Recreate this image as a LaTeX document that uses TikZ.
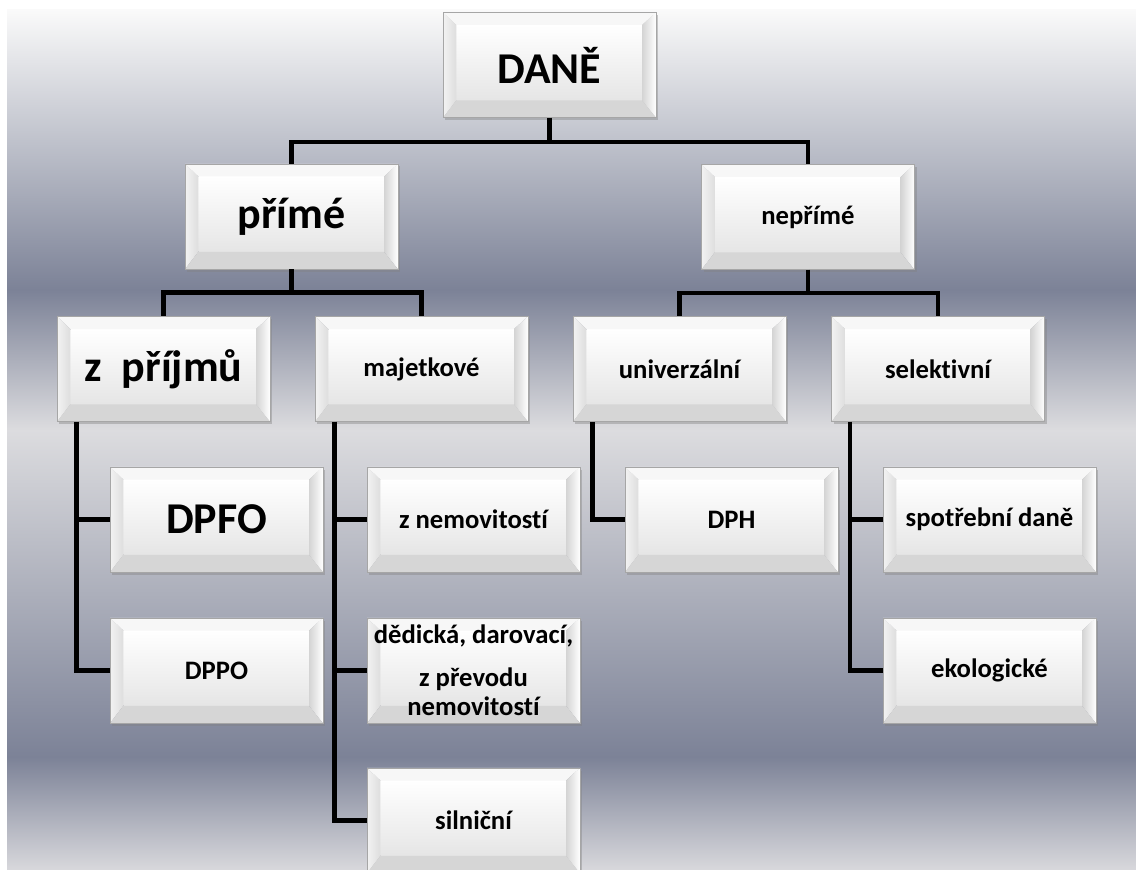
\documentclass[tikz,border=0pt]{standalone}
\usepackage{fontspec}
\setmainfont{Carlito}[Ligatures=NoCommon]
\usetikzlibrary{shadows,calc}
\tikzset{
  tbox/.style={rectangle,draw=black!35,line width=0.4pt,
    minimum width=159.75pt,minimum height=79pt,inner sep=1pt,align=center,
    font=\fontsize{20}{22}\selectfont\bfseries,
    drop shadow={shadow xshift=1.5pt,shadow yshift=-2pt,opacity=0.4},
    path picture={
      \path (path picture bounding box.north west) coordinate (nw)
            (path picture bounding box.north east) coordinate (ne)
            (path picture bounding box.south east) coordinate (se)
            (path picture bounding box.south west) coordinate (sw);
      \path ([shift={(10pt,-9.5pt)}]nw) coordinate (inw)
            ([shift={(-10.5pt,-9.5pt)}]ne) coordinate (ine)
            ([shift={(-10.5pt,13pt)}]se) coordinate (ise)
            ([shift={(10pt,13pt)}]sw) coordinate (isw);
      \shade[top color=white,bottom color=black!10] (inw) rectangle (ise);
      \fill[black!3] (nw)--(ne)--(ine)--(inw)--cycle;
      \shade[left color=black!5,right color=black!13] (nw)--(inw)--(isw)--(sw)--cycle;
      \shade[left color=black!17,right color=white] (ne)--(se)--(ise)--(ine)--cycle;
      \fill[black!16] (sw)--(se)--(ise)--(isw)--cycle;
    }},
  big/.style={font=\fontsize{33}{38}\selectfont\bfseries},
  conn/.style={line width=3.5pt,line join=miter}
}
\begin{document}
\begin{tikzpicture}[x=0.75pt,y=-0.75pt]
\useasboundingbox (0,0) rectangle (1136,870);
% pozadi
\shade[top color=black!2,bottom color={rgb,255:red,124;green,130;blue,151}] (7,10) rectangle (1136,290);
\shade[top color={rgb,255:red,124;green,130;blue,151},bottom color={rgb,255:red,220;green,220;blue,223}] (7,290) rectangle (1136,430);
\shade[top color={rgb,255:red,220;green,220;blue,223},bottom color={rgb,255:red,124;green,130;blue,151}] (7,430) rectangle (1136,757);
\shade[top color={rgb,255:red,124;green,130;blue,151},bottom color={rgb,255:red,216;green,216;blue,220}] (7,757) rectangle (1136,870);
%
\node[tbox,big] (dane) at (549.5,65) {DANĚ};
\node[tbox,big] (prime) at (291.5,216.5) {přímé};
\node[tbox] (neprime) at (808,217) {nepřímé};
%
\node[tbox,big] (prijmy) at (163.5,369) {z~~příjmů};
\node[tbox] (majetek) at (421.5,369) {majetkové};
\node[tbox] (univ) at (679.5,369) {univerzální};
\node[tbox] (selekt) at (938,369) {selektivní};
%
\node[tbox,big] (dpfo) at (216.5,519.5) {DPFO};
\node[tbox] (dppo) at (216.5,670.5) {DPPO};
\node[tbox] (nemov) at (473.5,519.5) {z nemovitostí};
\node[tbox] (dedic) at (473.5,670.5) {dědická, darovací,\\[10pt]z převodu\\nemovitostí};
\node[tbox] (silnic) at (473.5,820.5) {silniční};
\node[tbox] (dph) at (731.5,519.5) {DPH};
\node[tbox] (spotreb) at (989.5,519.5) {spotřební daně};
\node[tbox] (ekolog) at (989.5,670.5) {ekologické};
%
\draw[conn] (dane.south)--++(0,24)-|(prime.north);
\draw[conn] (dane.south)--++(0,24)-|(neprime.north);
\draw[conn] (prime.south)--++(0,23)-|(prijmy.north);
\draw[conn] (prime.south)--++(0,23)-|(majetek.north);
\draw[conn] (neprime.south)--++(0,23)-|(univ.north);
\draw[conn] (neprime.south)--++(0,23)-|(selekt.north);
%
\draw[conn] ([xshift=15pt]prijmy.south west)|-(dpfo.west);
\draw[conn] ([xshift=15pt]prijmy.south west)|-(dppo.west);
\draw[conn] ([xshift=15pt]majetek.south west)|-(nemov.west);
\draw[conn] ([xshift=15pt]majetek.south west)|-(dedic.west);
\draw[conn] ([xshift=15pt]majetek.south west)|-(silnic.west);
\draw[conn] ([xshift=15pt]univ.south west)|-(dph.west);
\draw[conn] ([xshift=14pt]selekt.south west)|-(spotreb.west);
\draw[conn] ([xshift=14pt]selekt.south west)|-(ekolog.west);
\end{tikzpicture}
\end{document}
